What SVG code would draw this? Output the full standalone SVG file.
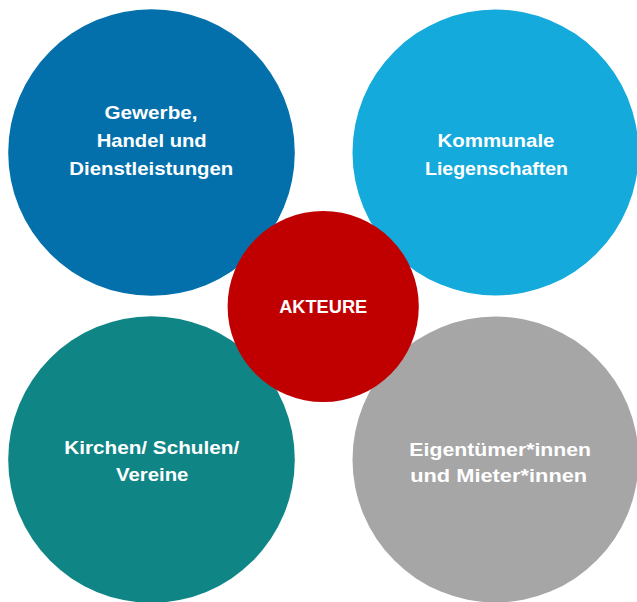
<svg xmlns="http://www.w3.org/2000/svg" width="637" height="602" viewBox="0 0 637 602">
<style>
  .lbl { font-family: "Liberation Sans", Arial, sans-serif; font-weight: bold; font-size: 19px; fill: #ffffff; text-anchor: middle; }
</style>
<rect width="637" height="602" fill="#ffffff"/>
<g id="connectors"></g>
<g id="node-gewerbe">
  <circle cx="151.5" cy="152.5" r="143.3" fill="#0370AC"/>
  <text class="lbl" x="151" y="118.5" textLength="93" lengthAdjust="spacingAndGlyphs">Gewerbe,</text>
  <text class="lbl" x="151.7" y="147.3" textLength="110" lengthAdjust="spacingAndGlyphs">Handel und</text>
  <text class="lbl" x="151.3" y="175.3" textLength="164" lengthAdjust="spacingAndGlyphs">Dienstleistungen</text>
</g>
<g id="node-kommunale">
  <circle cx="495.5" cy="152.5" r="143" fill="#14AADC"/>
  <text class="lbl" x="496" y="146.7" textLength="117" lengthAdjust="spacingAndGlyphs">Kommunale</text>
  <text class="lbl" x="496.5" y="174.5" textLength="143" lengthAdjust="spacingAndGlyphs">Liegenschaften</text>
</g>
<g id="node-kirchen">
  <circle cx="151.5" cy="459.5" r="143.3" fill="#0F8586"/>
  <text class="lbl" x="151.7" y="454.3" textLength="175" lengthAdjust="spacingAndGlyphs">Kirchen/ Schulen/</text>
  <text class="lbl" x="152.2" y="481.3" textLength="72.5" lengthAdjust="spacingAndGlyphs">Vereine</text>
</g>
<g id="node-eigentuemer">
  <circle cx="495.5" cy="459.5" r="143" fill="#A6A6A6"/>
  <text class="lbl" x="500.2" y="455.7" textLength="181.7" lengthAdjust="spacingAndGlyphs">Eigentümer*innen</text>
  <text class="lbl" x="498.7" y="482.3" textLength="177" lengthAdjust="spacingAndGlyphs">und Mieter*innen</text>
</g>
<g id="node-akteure">
  <circle cx="323.2" cy="306.5" r="95.6" fill="#C00000"/>
  <text class="lbl" x="323.2" y="313.3" textLength="88" lengthAdjust="spacingAndGlyphs">AKTEURE</text>
</g>
</svg>
